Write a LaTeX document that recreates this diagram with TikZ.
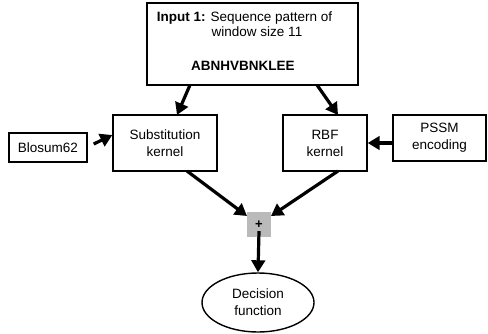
\documentclass[tikz,border=0pt]{standalone}
\usepackage{fontspec}
\setmainfont{Liberation Sans}
\usetikzlibrary{arrows.meta,shapes.geometric}
\begin{document}
\begin{tikzpicture}[x=1pt,y=-1pt,
  every node/.style={font=\fontsize{13.5}{17}\selectfont},
  box/.style={draw,line width=1.4pt,inner sep=0pt,align=center},
  arr/.style={line width=3.2pt,-{Triangle[length=12pt,width=13.5pt]}},
  plusbox/.style={fill=black!27,inner sep=0pt,minimum width=24pt,minimum height=25pt,font=\fontsize{13}{15}\selectfont\bfseries},
  oval/.style={draw,ellipse,line width=1.4pt,inner sep=0pt,minimum width=112pt,minimum height=59pt,align=center}]
\useasboundingbox (0,0) rectangle (488,333);
\node[box,line width=1.8pt,minimum width=211pt,minimum height=82pt] (inp) at (252.5,44) {};
\node (t1) at (244.5,18) {\textbf{Input 1:} Sequence pattern of};
\node (t2) at (257,32) {window size 11};
\node (t3) at (243,66) {\textbf{ABNHVBNKLEE}};
\node[box,minimum width=104pt,minimum height=56pt] (sub) at (165,143) {Substitution\\kernel};
\node[box,minimum width=78pt,minimum height=29pt] (blo) at (48,147.5) {Blosum62};
\node[box,minimum width=84pt,minimum height=56pt] (rbf) at (325,143) {RBF\\kernel};
\node[box,minimum width=93pt,minimum height=46pt] (pssm) at (439.5,138) {PSSM\\encoding};
\node[plusbox] (plus) at (259,224.5) {+};
\node[oval] (dec) at (258,302.5) {Decision\\function};
\coordinate (a1s) at (190,85);
\coordinate (a1e) at (177,115);
\coordinate (a2s) at (317,85);
\coordinate (a2e) at (338,115);
\coordinate (b1s) at (187,171);
\coordinate (b1e) at (247,216);
\coordinate (b2s) at (338,171);
\coordinate (b2e) at (271,216);
\draw[arr] (a1s) -- (a1e);
\draw[arr] (a2s) -- (a2e);
\draw[arr] ([xshift=6pt,yshift=3.5pt]blo.east) -- ([yshift=8pt]sub.west);
\draw[arr] (pssm.west|-rbf.east) -- (rbf.east);
\draw[arr] (b1s) -- (b1e);
\draw[arr] (b2s) -- (b2e);
\draw[arr] ([yshift=6pt]plus.south) -- (dec.north);
\end{tikzpicture}
\end{document}
